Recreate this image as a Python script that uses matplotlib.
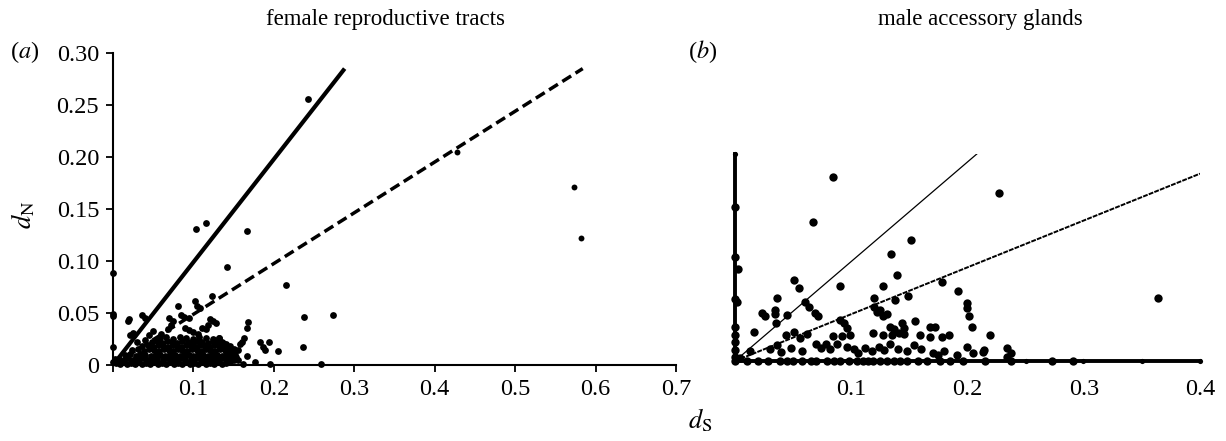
import numpy as np
import matplotlib
matplotlib.use("Agg")
import matplotlib.pyplot as plt

plt.rcParams["font.family"] = ["Liberation Serif", "DejaVu Serif"]
plt.rcParams["mathtext.fontset"] = "stix"

# (a) female reproductive tracts: dS, dN pairs
female_cluster = [
    (0.004, 0.002), (0.009, 0.001), (0.013, 0.003), (0.017, 0.001), (0.022, 0.002), (0.027, 0.001),
    (0.031, 0.003), (0.036, 0.001), (0.041, 0.002), (0.046, 0.001), (0.051, 0.003), (0.056, 0.001),
    (0.061, 0.002), (0.066, 0.001), (0.071, 0.003), (0.076, 0.001), (0.081, 0.002), (0.086, 0.001),
    (0.091, 0.003), (0.096, 0.001), (0.101, 0.002), (0.106, 0.001), (0.111, 0.003), (0.116, 0.001),
    (0.121, 0.002), (0.126, 0.001), (0.131, 0.003), (0.136, 0.001), (0.141, 0.002), (0.146, 0.003),
    (0.008, 0.006), (0.014, 0.005), (0.019, 0.007), (0.025, 0.005), (0.032, 0.006), (0.038, 0.007),
    (0.044, 0.005), (0.049, 0.007), (0.055, 0.006), (0.062, 0.005), (0.068, 0.007), (0.073, 0.006),
    (0.079, 0.005), (0.085, 0.007), (0.090, 0.006), (0.097, 0.005), (0.103, 0.007), (0.109, 0.006),
    (0.114, 0.005), (0.119, 0.007), (0.125, 0.006), (0.132, 0.005), (0.138, 0.007), (0.144, 0.006),
    (0.150, 0.005),
    (0.015, 0.010), (0.021, 0.011), (0.028, 0.009), (0.034, 0.011), (0.040, 0.010), (0.047, 0.009),
    (0.053, 0.011), (0.059, 0.010), (0.065, 0.009), (0.071, 0.011), (0.077, 0.010), (0.083, 0.009),
    (0.088, 0.011), (0.094, 0.010), (0.100, 0.009), (0.106, 0.011), (0.112, 0.010), (0.118, 0.009),
    (0.123, 0.011), (0.129, 0.010), (0.135, 0.009), (0.141, 0.011), (0.147, 0.010), (0.153, 0.008),
    (0.024, 0.014), (0.031, 0.015), (0.038, 0.013), (0.045, 0.015), (0.051, 0.014), (0.057, 0.013),
    (0.063, 0.015), (0.069, 0.014), (0.075, 0.013), (0.081, 0.015), (0.086, 0.014), (0.092, 0.013),
    (0.098, 0.015), (0.104, 0.014), (0.110, 0.013), (0.116, 0.015), (0.121, 0.014), (0.127, 0.013),
    (0.133, 0.015), (0.139, 0.014), (0.145, 0.013), (0.150, 0.012),
    (0.036, 0.018), (0.043, 0.019), (0.050, 0.017), (0.056, 0.019), (0.062, 0.018), (0.068, 0.017),
    (0.074, 0.019), (0.079, 0.018), (0.085, 0.017), (0.091, 0.019), (0.097, 0.018), (0.103, 0.017),
    (0.108, 0.019), (0.114, 0.018), (0.120, 0.017), (0.126, 0.019), (0.132, 0.018), (0.138, 0.016),
    (0.144, 0.017),
    (0.048, 0.022), (0.055, 0.023), (0.061, 0.021), (0.067, 0.023), (0.073, 0.022), (0.080, 0.021),
    (0.086, 0.023), (0.093, 0.022), (0.099, 0.021), (0.105, 0.023), (0.111, 0.022), (0.118, 0.021),
    (0.124, 0.023), (0.131, 0.022), (0.137, 0.021),
    (0.058, 0.026), (0.066, 0.027), (0.074, 0.025), (0.083, 0.027), (0.091, 0.026), (0.099, 0.025),
    (0.107, 0.027), (0.115, 0.026), (0.124, 0.025), (0.132, 0.026),
]
female_scatter = [
    (0.000, 0.088), (0.000, 0.047), (0.000, 0.049), (0.000, 0.017), (0.000, 0.003), (0.003, 0.006),
    (0.018, 0.042), (0.020, 0.044), (0.036, 0.048), (0.040, 0.045), (0.021, 0.029), (0.025, 0.031),
    (0.030, 0.022), (0.040, 0.024), (0.069, 0.045), (0.075, 0.042), (0.081, 0.057), (0.085, 0.048),
    (0.088, 0.046), (0.095, 0.045), (0.102, 0.062), (0.104, 0.057), (0.108, 0.055), (0.123, 0.066),
    (0.120, 0.044), (0.124, 0.042), (0.128, 0.040), (0.110, 0.036), (0.115, 0.035), (0.118, 0.038),
    (0.090, 0.036), (0.095, 0.034), (0.100, 0.032), (0.068, 0.035), (0.072, 0.038), (0.060, 0.030),
    (0.050, 0.033), (0.045, 0.029), (0.106, 0.030), (0.132, 0.026), (0.136, 0.022), (0.140, 0.020),
    (0.145, 0.018), (0.150, 0.015), (0.155, 0.014), (0.158, 0.020), (0.160, 0.022), (0.163, 0.026),
    (0.166, 0.036), (0.168, 0.041), (0.166, 0.009), (0.161, 0.001), (0.177, 0.003), (0.183, 0.022),
    (0.186, 0.017), (0.189, 0.014), (0.194, 0.022), (0.195, 0.001), (0.205, 0.013), (0.152, 0.010),
    (0.155, 0.005),
    (0.103, 0.131), (0.116, 0.137), (0.167, 0.129), (0.142, 0.094), (0.215, 0.077), (0.237, 0.046),
    (0.273, 0.048), (0.236, 0.017), (0.259, 0.001), (0.242, 0.256),
]
female_faint = [(0.428, 0.205), (0.573, 0.171), (0.582, 0.122)]
female_neutral = (0.288, 0.285)   # end of the dN = dS line
female_mean = (0.584, 0.285)      # end of the dashed line

# (b) male accessory glands
male_pts = [
    (0.000, 0.149), (0.000, 0.100), (0.003, 0.089), (0.000, 0.060), (0.002, 0.057), (0.000, 0.033),
    (0.000, 0.025), (0.000, 0.018), (0.000, 0.011), (0.000, 0.004), (0.000, 0.000), (0.004, 0.003),
    (0.084, 0.178), (0.067, 0.134), (0.151, 0.117), (0.134, 0.103), (0.139, 0.083), (0.090, 0.072),
    (0.051, 0.078), (0.055, 0.071), (0.036, 0.061), (0.127, 0.072), (0.178, 0.076), (0.192, 0.068),
    (0.120, 0.061), (0.138, 0.059), (0.149, 0.063), (0.227, 0.162), (0.364, 0.061),
    (0.023, 0.046), (0.026, 0.043), (0.034, 0.049), (0.034, 0.045), (0.035, 0.037), (0.045, 0.044),
    (0.016, 0.028), (0.060, 0.057), (0.064, 0.052), (0.069, 0.046), (0.071, 0.043), (0.044, 0.025),
    (0.051, 0.028), (0.056, 0.022), (0.062, 0.026), (0.090, 0.040), (0.094, 0.037), (0.096, 0.032),
    (0.099, 0.025), (0.084, 0.024), (0.092, 0.024), (0.120, 0.052), (0.125, 0.049), (0.122, 0.047),
    (0.127, 0.043), (0.131, 0.045), (0.133, 0.033), (0.137, 0.031), (0.141, 0.027), (0.144, 0.037),
    (0.145, 0.032), (0.145, 0.026), (0.155, 0.039), (0.119, 0.027), (0.127, 0.025), (0.135, 0.025),
    (0.159, 0.025), (0.168, 0.033), (0.172, 0.033), (0.168, 0.023), (0.178, 0.023), (0.184, 0.025),
    (0.200, 0.056), (0.200, 0.051), (0.201, 0.043), (0.204, 0.033), (0.200, 0.014), (0.205, 0.008),
    (0.219, 0.025), (0.214, 0.011), (0.234, 0.013), (0.237, 0.008), (0.234, 0.004),
    (0.013, 0.010), (0.030, 0.012), (0.036, 0.015), (0.040, 0.009), (0.048, 0.013), (0.058, 0.010),
    (0.070, 0.016), (0.074, 0.013), (0.078, 0.016), (0.082, 0.012), (0.088, 0.016), (0.096, 0.014),
    (0.102, 0.012), (0.106, 0.008), (0.112, 0.013), (0.118, 0.010), (0.124, 0.014), (0.128, 0.011),
    (0.133, 0.016), (0.140, 0.012), (0.148, 0.010), (0.154, 0.015), (0.160, 0.012), (0.170, 0.008),
    (0.180, 0.010), (0.191, 0.006), (0.175, 0.006), (0.213, 0.009),
    (0.010, 0.000), (0.020, 0.000), (0.028, 0.000), (0.039, 0.000), (0.045, 0.000), (0.050, 0.000),
    (0.058, 0.000), (0.065, 0.000), (0.070, 0.000), (0.079, 0.000), (0.085, 0.000), (0.090, 0.000),
    (0.098, 0.000), (0.105, 0.000), (0.110, 0.000), (0.114, 0.000), (0.119, 0.000), (0.125, 0.000),
    (0.131, 0.000), (0.137, 0.000), (0.142, 0.000), (0.148, 0.000), (0.157, 0.000), (0.165, 0.000),
    (0.176, 0.000), (0.185, 0.000), (0.196, 0.000), (0.215, 0.000), (0.237, 0.000), (0.273, 0.000),
    (0.291, 0.000),
]
male_small = [(0.000, 0.200), (0.250, 0.000), (0.299, 0.000), (0.350, 0.000), (0.400, 0.000)]
male_neutral = (0.208, 0.200)
male_mean = (0.400, 0.181)

fig = plt.figure(figsize=(12.26, 4.41), dpi=100)
ax1 = fig.add_axes([0.0922, 0.1723, 0.4592, 0.7075])
ax2 = fig.add_axes([0.5995, 0.1814, 0.3793, 0.4694])

# panel (a)
fx, fy = np.array(female_cluster + female_scatter).T
ax1.scatter(fx, fy, s=24, color="black", linewidths=0, zorder=3, clip_on=False)
gx, gy = np.array(female_faint).T
ax1.scatter(gx, gy, s=18, color="black", linewidths=0, zorder=3)
ax1.plot([0, female_neutral[0]], [0, female_neutral[1]], color="black", lw=3.0, solid_capstyle="butt")
ax1.plot([0, female_mean[0]], [0, female_mean[1]], color="black", lw=2.5,
         dashes=(3.0, 1.5), dash_capstyle="butt")
ax1.set_xlim(0, 0.7)
ax1.set_ylim(0, 0.30)
ax1.set_xticks([0, 0.1, 0.2, 0.3, 0.4, 0.5, 0.6, 0.7])
ax1.set_xticklabels(["", "0.1", "0.2", "0.3", "0.4", "0.5", "0.6", "0.7"])
ax1.set_yticks([0, 0.05, 0.10, 0.15, 0.20, 0.25, 0.30])
ax1.set_yticklabels(["0", "0.05", "0.10", "0.15", "0.20", "0.25", "0.30"])
for s in ["top", "right"]:
    ax1.spines[s].set_visible(False)
for s in ["left", "bottom"]:
    ax1.spines[s].set_linewidth(1.5)
ax1.tick_params(direction="out", length=5, width=1.3, labelsize=17.5, pad=5)
ax1.set_ylabel(r"$d_{\mathrm{N}}$", fontsize=19)
ax1.yaxis.set_label_coords(-0.135, 0.48)

# panel (b)
mx, my = np.array(male_pts).T
ax2.scatter(mx, my, s=36, color="black", linewidths=0, zorder=3, clip_on=False)
sx, sy = np.array(male_small).T
ax2.scatter(sx, sy, s=14, color="black", linewidths=0, zorder=3, clip_on=False)
ax2.plot([0, male_neutral[0]], [0, male_neutral[1]], color="black", lw=0.9)
ax2.plot([0, male_mean[0]], [0, male_mean[1]], color="black", lw=1.4, dashes=(2.5, 0.6))
ax2.set_xlim(0, 0.4)
ax2.set_ylim(0, 0.2)
ax2.set_xticks([0.1, 0.2, 0.3, 0.4])
ax2.set_xticklabels(["0.1", "0.2", "0.3", "0.4"])
ax2.set_yticks([])
for s in ["top", "right"]:
    ax2.spines[s].set_visible(False)
for s in ["left", "bottom"]:
    ax2.spines[s].set_linewidth(2.8)
ax2.tick_params(axis="x", length=0, labelsize=17.5, pad=13)

fig.text(385 / 1226, 1 - 20 / 441, "female reproductive tracts", fontsize=16.5, ha="center", va="center")
fig.text(980 / 1226, 1 - 20 / 441, "male accessory glands", fontsize=16.5, ha="center", va="center")
fig.text(25 / 1226, 1 - 52 / 441, r"($a$)", fontsize=17.5, ha="center", va="center")
fig.text(703 / 1226, 1 - 52 / 441, r"($b$)", fontsize=17.5, ha="center", va="center")
fig.text(700 / 1226, 1 - 420 / 441, r"$d_{\mathrm{S}}$", fontsize=19, ha="center", va="center")

fig.savefig("out.png", dpi=100)
